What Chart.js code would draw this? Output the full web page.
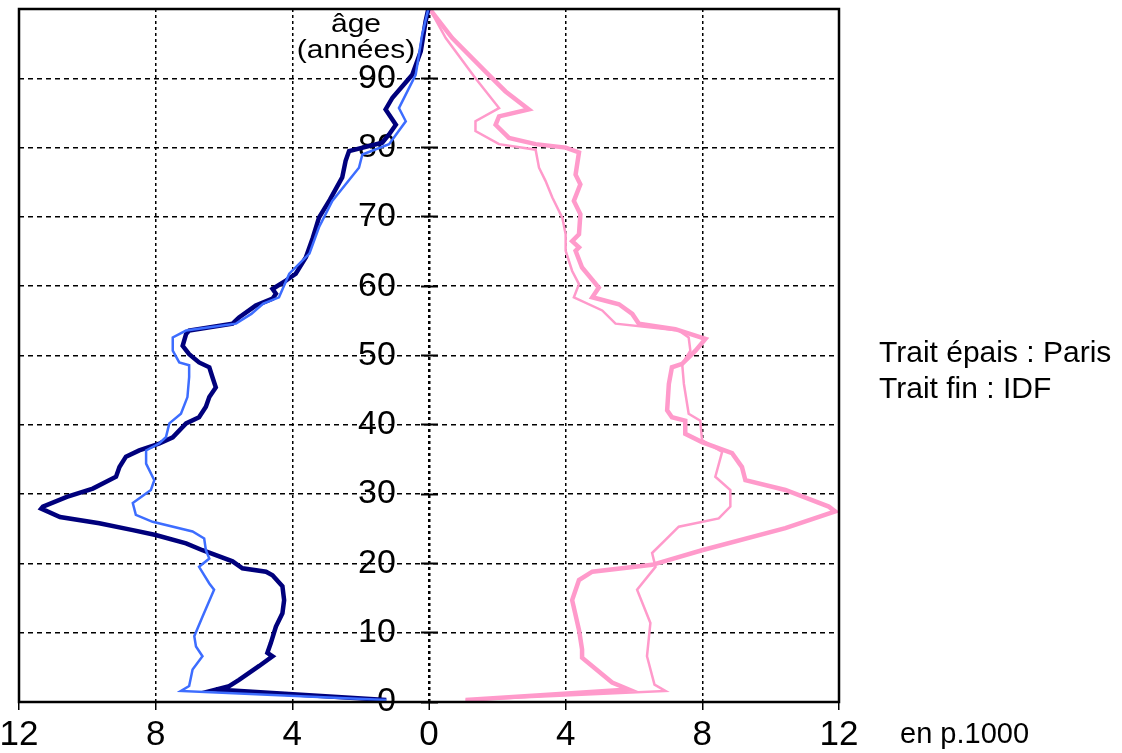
<!DOCTYPE html>
<html><head><meta charset="utf-8">
<script src="https://cdn.jsdelivr.net/npm/chart.js@4"></script>
<style>html,body{margin:0;padding:0;background:#fff}canvas{display:block}</style>
</head><body>
<canvas id="c" width="1122" height="753"></canvas>
<script>
// Axis definitions
const xTicks = [-12, -8, -4, 0, 4, 8, 12];
const ageTicks = [0, 10, 20, 30, 40, 50, 60, 70, 80, 90];

// Hommes, Paris (trait épais) — p.1000
const agesHommesParis = [0.3,1.8,2.3,3.2,5.2,6.6,7.1,8.5,10.9,12.8,14.7,16.7,18.3,18.8,19.3,20.3,21.9,22.9,24.1,24.8,25.8,26.7,27.9,28.2,29.6,30.8,32.5,33.9,35.4,36.3,37.3,38.2,40.2,41.1,42.6,44,45.4,46.9,48.3,49,50.2,51.4,53.1,53.6,54.6,55.5,57.2,58.2,58.9,59.6,60.8,61.8,64.2,67,69.9,72.5,75.7,78.1,79.5,80.7,81.9,83.3,85.5,87.2,90.5,93.9,98.2,100];
const hommesParis = [1.25,6.24,5.85,5.56,4.97,4.58,4.73,4.63,4.48,4.29,4.24,4.29,4.58,4.77,5.46,5.75,6.63,7.11,8.0,8.67,9.65,10.8,11.35,11.3,10.6,9.84,9.16,9.06,8.87,8.48,7.89,7.5,7.11,6.73,6.53,6.43,6.24,6.34,6.43,6.73,7.02,7.21,7.11,7.02,5.75,5.56,5.07,4.58,4.48,4.58,4.19,3.9,3.6,3.4,3.22,2.9,2.54,2.44,2.34,1.37,1.17,0.97,1.27,1.07,0.49,0.24,0.1,0.02];

// Hommes, IDF (trait fin)
const agesHommesIDF = [0.3,1.6,2.3,4.7,6.6,8,9.5,12.3,16.2,17.1,19.5,20.7,21.9,23.6,24.6,26,27,28.7,30.6,32,34.4,36.3,37.3,38.2,40.2,41.6,44,46.9,48.6,49,50.7,52.6,53.6,54.6,56,57.5,58.4,61.8,64.7,68.5,72.3,77.1,79,80.5,83.8,85.7,90.5,96.3,100];
const hommesIDF = [1.25,7.26,7.02,6.92,6.63,6.82,6.87,6.63,6.29,6.43,6.73,6.43,6.53,6.58,6.92,8.09,8.58,8.67,8.14,8.04,8.28,8.28,7.9,7.7,7.6,7.26,7.07,7.02,7.02,7.31,7.5,7.5,7.11,5.65,5.2,4.85,4.39,4.09,3.5,3.22,2.83,2.05,1.95,1.17,0.68,0.88,0.39,0.2,0.02];

// Femmes, Paris (trait épais)
const agesFemmesParis = [0.3,1.1,1.8,2.8,6.4,7.6,10.4,14.7,17.6,18.8,19.8,21.9,25.1,27.5,28.2,30.6,32,33.9,35.9,37.5,38.7,40.6,41.1,42.1,45.9,48.3,48.8,50.7,52.4,53.8,54.6,56,57.4,58.4,59.8,62.7,65.1,65.6,66.5,67.5,70.4,72.3,74.7,76.1,79.3,80,80.5,81.4,83.3,84.5,85.5,88.1,90.5,95.8,100];
const femmesParis = [1.07,3.6,5.85,5.36,4.48,4.48,4.39,4.19,4.39,4.78,6.53,7.99,10.43,11.89,11.7,10.43,9.26,9.16,8.87,7.99,7.5,7.5,7.11,6.97,7.02,7.11,7.41,7.8,8.09,7.21,6.14,5.95,5.56,4.78,4.97,4.48,4.29,4.39,4.19,4.39,4.43,4.24,4.43,4.29,4.39,4.0,3.12,2.34,1.95,2.05,2.92,2.24,1.75,0.68,0.02];

// Femmes, IDF (trait fin)
const agesFemmesIDF = [0.3,1.6,2.5,6.6,11.4,16.2,19.5,21.5,23.4,25.3,26.5,28.2,30.6,32.5,36.1,37.8,40.6,41.6,45.9,48.8,50.7,52.6,53.6,54.6,56.5,58.4,60.3,62.2,65.1,67.5,69.9,72.8,75.2,77.1,79.7,80.5,82.4,83.8,85.7,90,95.8,100];
const femmesIDF = [1.07,6.92,6.6,6.38,6.48,6.09,6.63,6.53,6.92,7.31,8.48,8.82,8.82,8.38,8.58,7.99,7.94,7.6,7.46,7.41,7.65,7.6,7.31,5.46,5.07,4.24,4.39,4.19,4.0,4.0,3.9,3.61,3.41,3.22,3.12,2.05,1.36,1.36,2.05,1.36,0.49,0.02];

const toPts = (ages, vals, sign) => ages.map((a, i) => ({x: sign * vals[i], y: a}));
const noPad = s => { s.paddingTop = 0; s.paddingBottom = 0; s.paddingLeft = 0; s.paddingRight = 0; };
const FONT = '"Liberation Sans", Arial, sans-serif';

const textPlugin = {
  id: 'frameAndTexts',
  afterDraw(chart) {
    const {ctx, chartArea: a} = chart;
    ctx.save();
    ctx.strokeStyle = '#000';
    ctx.lineWidth = 2.5;
    ctx.strokeRect(a.left, a.top, a.right - a.left, a.bottom - a.top);
    ctx.fillStyle = '#000';
    ctx.textBaseline = 'alphabetic';
    ctx.font = '25px ' + FONT;
    ctx.textAlign = 'center';
    const drawScaled = (t, x, y, sx) => { ctx.save(); ctx.translate(x, y); ctx.scale(sx, 1); ctx.fillText(t, 0, 0); ctx.restore(); };
    drawScaled('âge', 356, 32, 1.2);
    drawScaled('(années)', 356, 58, 1.2);
    ctx.textAlign = 'left';
    ctx.font = '30px ' + FONT;
    ctx.fillText('Trait épais : Paris', 879, 362);
    ctx.fillText('Trait fin : IDF', 879, 398);
    ctx.font = '29px ' + FONT;
    ctx.fillText('en p.1000', 900, 743);
    ctx.restore();
  }
};

new Chart(document.getElementById('c'), {
  type: 'scatter',
  data: {
    datasets: [
      {label: 'Hommes IDF', data: toPts(agesHommesIDF, hommesIDF, -1), borderColor: '#3d6dff', borderWidth: 2.5},
      {label: 'Hommes Paris', data: toPts(agesHommesParis, hommesParis, -1), borderColor: '#00007c', borderWidth: 4.5},
      {label: 'Femmes IDF', data: toPts(agesFemmesIDF, femmesIDF, 1), borderColor: '#ff9acb', borderWidth: 2.5},
      {label: 'Femmes Paris', data: toPts(agesFemmesParis, femmesParis, 1), borderColor: '#ff9acb', borderWidth: 4.5}
    ].map(d => Object.assign(d, {showLine: true, pointRadius: 0, pointHoverRadius: 0, tension: 0, fill: false}))
  },
  options: {
    responsive: false,
    animation: false,
    events: [],
    layout: {padding: {left: 19, right: 283, top: 9, bottom: 0}},
    plugins: {legend: {display: false}, tooltip: {enabled: false}},
    scales: {
      x: {
        type: 'linear',
        min: xTicks[0], max: xTicks[xTicks.length - 1],
        afterBuildTicks: s => { s.ticks = xTicks.map(v => ({value: v})); },
        afterFit: s => { s.height = 51; noPad(s); },
        ticks: {
          autoSkip: false, maxRotation: 0, padding: 4, color: '#000',
          font: {family: FONT, size: 35},
          callback: v => String(Math.abs(v))
        },
        grid: {color: '#000', lineWidth: c => (c.tick && c.tick.value === 0 ? 2.5 : 1.5), tickLength: 8, tickWidth: 1.5, tickColor: '#000', drawTicks: true},
        border: {display: false, dash: [3, 3]}
      },
      y: {
        type: 'linear',
        position: {x: -0.97},
        min: 0, max: 100,
        afterBuildTicks: s => { s.ticks = ageTicks.map(v => ({value: v})); },
        afterFit: noPad,
        ticks: {
          autoSkip: false, color: '#000',
          font: {family: FONT, size: 34}
        },
        grid: {color: '#000', lineWidth: 1.5, drawTicks: false},
        border: {display: false, dash: [5, 4]}
      },
      yTicks: {
        type: 'linear',
        axis: 'y',
        position: {x: 0.27},
        min: 0, max: 100,
        afterBuildTicks: s => { s.ticks = ageTicks.map(v => ({value: v})); },
        afterFit: noPad,
        ticks: {display: false},
        grid: {drawOnChartArea: false, drawTicks: true, tickLength: 17, tickWidth: 2, tickColor: '#000'},
        border: {display: false}
      }
    }
  },
  plugins: [textPlugin]
});
</script>
</body></html>
